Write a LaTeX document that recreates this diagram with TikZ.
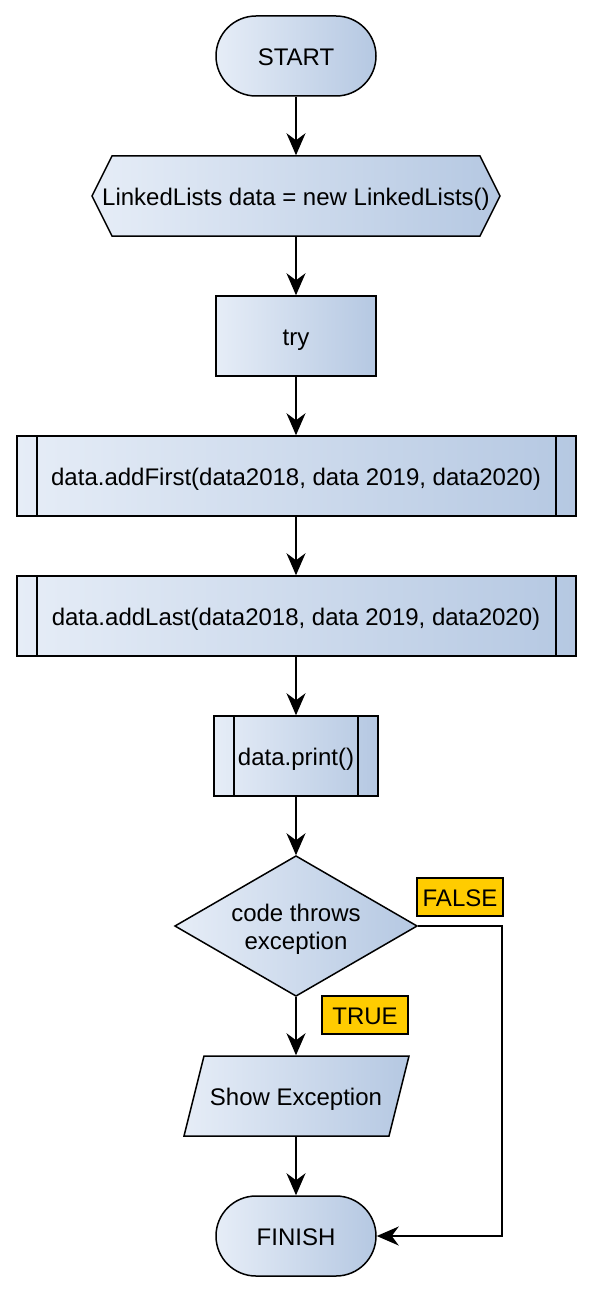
\documentclass[tikz,border=0pt]{standalone}
\usepackage{fontspec}
\setmainfont{Liberation Sans}
\usetikzlibrary{arrows.meta}
\definecolor{gL}{HTML}{E6EDF7}
\definecolor{gR}{HTML}{B5C8E2}
\definecolor{lblY}{HTML}{FFCC00}
\begin{document}
\begin{tikzpicture}[x=1pt,y=-1pt, line width=1.5pt,
  shp/.style={draw=black, left color=gL, right color=gR, line join=miter},
  txt/.style={inner sep=0pt, align=center, font=\fontsize{24}{28}\selectfont, text=black, text height=23.3pt, text depth=5.1pt},
  box/.style={inner sep=0pt},
  flow/.style={-{Stealth[length=22pt,width=19pt,inset=7pt]}, line width=1.5pt},
  tag/.style={draw=black, fill=lblY, inner sep=0pt, minimum width=86pt, minimum height=38pt, font=\fontsize{24}{28}\selectfont, text height=23.3pt, text depth=5.1pt}
]
\useasboundingbox (0,0) rectangle (592,1292);
\fill[white] (0,0) rectangle (592,1292);

% START
\path[shp, rounded corners=40pt] (216,16) rectangle (376,96);
\node[txt, minimum width=160pt, minimum height=80pt] (start) at (296,56) {START};

% init hexagon
\path[shp] (92,196) -- (112,156) -- (480,156) -- (500,196) -- (480,236) -- (112,236) -- cycle;
\node[txt, minimum width=408pt, minimum height=80pt] (init) at (296,196) {LinkedLists data = new LinkedLists()};

% try
\path[shp] (216,296) rectangle (376,376);
\node[txt, minimum width=160pt, minimum height=80pt] (try) at (296,336) {try};

% addFirst
\path[shp] (17,436) rectangle (576,516);
\draw (37,436) -- (37,516) (556,436) -- (556,516);
\node[txt, minimum width=558pt, minimum height=80pt] (addf) at (296,476) {data.addFirst(data2018, data 2019, data2020)};

% addLast
\path[shp] (17,576) rectangle (576,656);
\draw (37,576) -- (37,656) (556,576) -- (556,656);
\node[txt, minimum width=558pt, minimum height=80pt] (addl) at (296,616) {data.addLast(data2018, data 2019, data2020)};

% print
\path[shp] (214,716) rectangle (378,796);
\draw (234,716) -- (234,796) (358,716) -- (358,796);
\node[txt, minimum width=164pt, minimum height=80pt] (prt) at (296,756) {data.print()};

% decision
\path[shp] (175,926) -- (296,856) -- (417,926) -- (296,996) -- cycle;
\node[box, minimum width=242pt, minimum height=140pt] (dec) at (296,926) {};
\node[inner sep=0pt, align=center, font=\fontsize{24}{28}\selectfont, yshift=-3.5pt] (dectxt) at (dec.center) {code throws\\exception};

% Show Exception
\path[shp] (204,1056) -- (409,1056) -- (389,1136) -- (184,1136) -- cycle;
\node[txt, minimum width=224pt, minimum height=80pt] (show) at (296,1096) {Show Exception};

% FINISH
\path[shp, rounded corners=40pt] (216,1196) rectangle (376,1276);
\node[txt, minimum width=160pt, minimum height=80pt] (fin) at (296,1236) {FINISH};

% labels
\node[tag] (lfalse) at (460,897) {FALSE};
\node[tag] (ltrue) at (365,1015) {TRUE};

% connectors
\draw[flow] (start) -- (init);
\draw[flow] (init) -- (try);
\draw[flow] (try) -- (addf);
\draw[flow] (addf) -- (addl);
\draw[flow] (addl) -- (prt);
\draw[flow] (prt) -- (dec);
\draw[flow] (dec) -- (show);
\draw[flow] (show) -- (fin);
\coordinate (fr) at (502,926);
\draw[flow] (dec.east) -- (fr) |- (fin.east);
\end{tikzpicture}
\end{document}
